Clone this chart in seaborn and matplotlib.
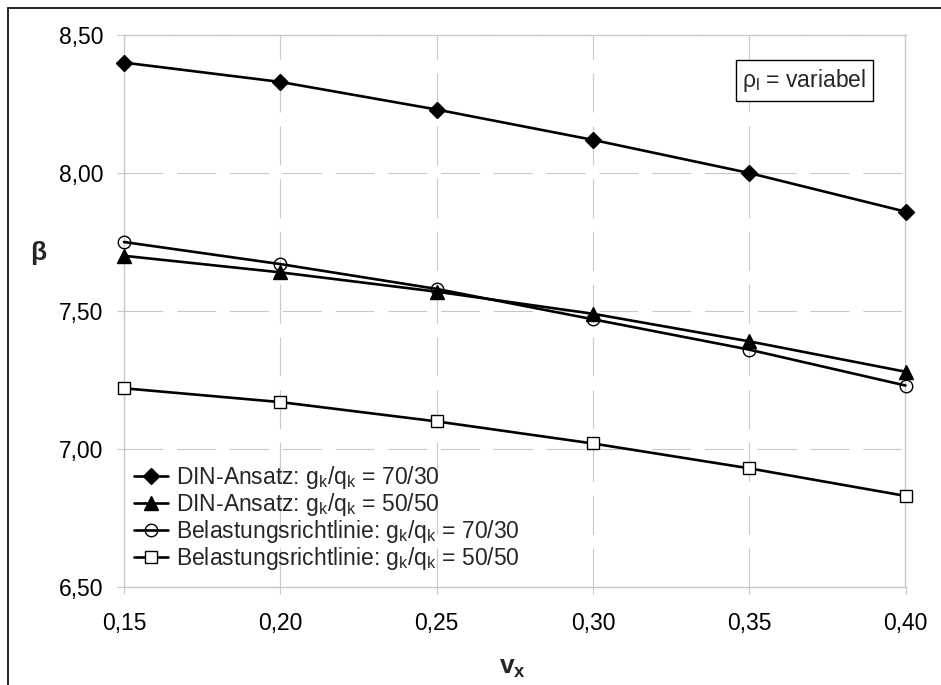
import matplotlib
matplotlib.use("Agg")
import matplotlib.pyplot as plt
from matplotlib.lines import Line2D
import numpy as np
import pandas as pd
import seaborn as sns

# --- data -------------------------------------------------------------
v_x = [0.15, 0.20, 0.25, 0.30, 0.35, 0.40]
din_70_30 = [8.40, 8.33, 8.23, 8.12, 8.00, 7.86]
din_50_50 = [7.70, 7.64, 7.57, 7.49, 7.39, 7.28]
bel_70_30 = [7.75, 7.67, 7.58, 7.47, 7.36, 7.23]
bel_50_50 = [7.22, 7.17, 7.10, 7.02, 6.93, 6.83]

series_labels = [
    r"DIN-Ansatz: g$_\mathrm{k}$/q$_\mathrm{k}$ = 70/30",
    r"DIN-Ansatz: g$_\mathrm{k}$/q$_\mathrm{k}$ = 50/50",
    r"Belastungsrichtlinie: g$_\mathrm{k}$/q$_\mathrm{k}$ = 70/30",
    r"Belastungsrichtlinie: g$_\mathrm{k}$/q$_\mathrm{k}$ = 50/50",
]
x_ticks = [0.15, 0.20, 0.25, 0.30, 0.35, 0.40]
x_tick_labels = ["0,15", "0,20", "0,25", "0,30", "0,35", "0,40"]
y_ticks = [6.50, 7.00, 7.50, 8.00, 8.50]
y_tick_labels = ["6,50", "7,00", "7,50", "8,00", "8,50"]

# --- style ------------------------------------------------------------
sns.set_theme(style="white")
plt.rcParams["font.family"] = ["Liberation Sans", "DejaVu Sans"]
plt.rcParams["mathtext.fontset"] = "custom"
plt.rcParams["mathtext.rm"] = "Liberation Sans"
plt.rcParams["mathtext.it"] = "Liberation Sans:italic"
plt.rcParams["mathtext.bf"] = "Liberation Sans:bold"
plt.rcParams["lines.scale_dashes"] = False

FS = 16.5
GRID = "#c8c8c8"

W, H = 941, 685
fig = plt.figure(figsize=(W / 100, H / 100), dpi=100)
ax = fig.add_axes([124 / W, 1 - 587 / H, (905.5 - 124) / W, (587 - 35) / H])

frames = []
for lab, vals in zip(series_labels, [din_70_30, din_50_50, bel_70_30, bel_50_50]):
    frames.append(pd.DataFrame({"v_x": v_x, "beta": vals, "Reihe": lab}))
df = pd.concat(frames, ignore_index=True)

marker_styles = {
    series_labels[0]: dict(marker="D", markersize=8, markerfacecolor="black"),
    series_labels[1]: dict(marker="^", markersize=9.5, markerfacecolor="black"),
    series_labels[2]: dict(marker="o", markersize=9, markerfacecolor="none"),
    series_labels[3]: dict(marker="s", markersize=8.5, markerfacecolor="white"),
}

for lab in series_labels:
    sub = df[df["Reihe"] == lab]
    sns.lineplot(data=sub, x="v_x", y="beta", ax=ax, color="black",
                 linewidth=1.9, markeredgecolor="black", markeredgewidth=1.0,
                 label=lab, zorder=3, clip_on=False, **marker_styles[lab])

ax.set_xlim(0.15, 0.40)
ax.set_ylim(6.50, 8.50)
ax.set_xticks(x_ticks)
ax.set_xticklabels(x_tick_labels, fontsize=FS)
ax.set_yticks(y_ticks)
ax.set_yticklabels(y_tick_labels, fontsize=FS)
ax.tick_params(axis="both", direction="out", length=5, width=0.8,
               color=GRID, labelcolor="black")
ax.tick_params(axis="x", pad=13)
ax.tick_params(axis="y", pad=10)
ax.tick_params(bottom=True, left=True)

ax.grid(True, color=GRID, linewidth=0.8, linestyle=(0, (28, 10)), zorder=0)
for s in ax.spines.values():
    s.set_color(GRID)
    s.set_linewidth(1.0)
    s.set_visible(True)

ax.set_xlabel("")
ax.set_ylabel("")
fig.text(513 / W, 1 - 668 / H, r"$\mathbf{v_x}$", fontsize=19,
         ha="center", va="center")
fig.text(38 / W, 1 - 253 / H, "β", fontsize=19, fontweight="bold",
         ha="center", va="center")

# annotation box
ax.text(0.95, 0.918, r"ρ$_\mathrm{l}$ = variabel", transform=ax.transAxes,
        fontsize=FS, ha="right", va="center",
        bbox=dict(boxstyle="square,pad=0.3", facecolor="white",
                  edgecolor="black", linewidth=1.0), zorder=5)

leg = ax.legend(loc="upper left", bbox_to_anchor=(134 / W, 1 - 464 / H),
                bbox_transform=fig.transFigure, frameon=False, fontsize=FS,
                handlelength=1.5, handletextpad=0.35, labelspacing=0.0,
                borderpad=0.0, borderaxespad=0.0)

# outer figure frame (left and top edges)
fig.add_artist(Line2D([8 / W, 8 / W], [0, 1 - 8 / H], color="black",
                      linewidth=1.2, transform=fig.transFigure))
fig.add_artist(Line2D([8 / W, 1], [1 - 8 / H, 1 - 8 / H], color="black",
                      linewidth=1.2, transform=fig.transFigure))

fig.savefig("out.png", dpi=100, facecolor="white")
